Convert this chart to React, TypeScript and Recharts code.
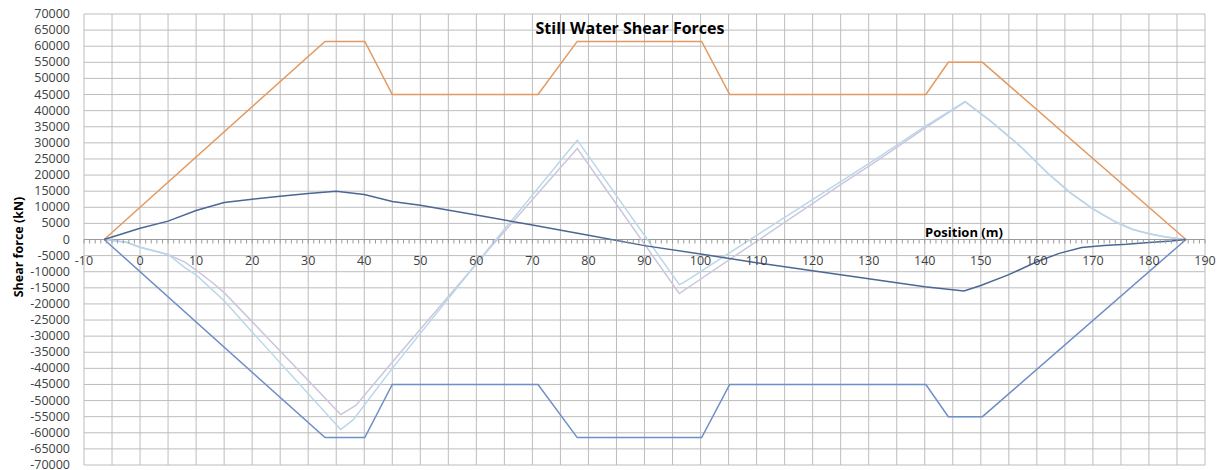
import React from "react";
import { CartesianGrid, Line, LineChart, ReferenceLine, XAxis, YAxis } from "recharts";

// Still water shear force along the hull, with the allowable envelope and
// two loading conditions. Positions in m, forces in kN.

const W = 1223;
const H = 470;
const PLOT_TOP = 14;
const PLOT_H = 451;
const ZERO_Y = PLOT_TOP + PLOT_H / 2;
const FONT = "'Open Sans', sans-serif";

const maxEnvX = [-6.4, 33, 40.1, 45, 71, 78, 100.2, 105.2, 140.2, 144.2, 150.3, 186.6];
const maxEnvY = [0, 61500, 61500, 45000, 45000, 61500, 61500, 45000, 45000, 55000, 55000, 0];

const minEnvX = [-6.4, 33, 40.1, 45, 71, 78, 100.2, 105.2, 140.2, 144.2, 150.3, 186.6];
const minEnvY = [0, -61500, -61500, -45000, -45000, -61500, -61500, -45000, -45000, -55000, -55000, 0];

const stillX = [-6.4, 0, 5, 10, 15, 20, 25, 30, 35, 40, 45, 50, 60, 70, 80, 90, 100, 110, 120, 130, 140, 147, 150, 155, 160, 164, 168, 172, 176, 180, 184, 186.6];
const stillY = [0, 3500, 5700, 9000, 11500, 12500, 13400, 14300, 15000, 14000, 11800, 10600, 7600, 4500, 1300, -1900, -4500, -7200, -9700, -12200, -14700, -16000, -14300, -10900, -6900, -4300, -2500, -1900, -1500, -900, -500, 0];

const loadAX = [-6.4, -2.4, 0, 5, 8, 10, 15, 20, 35.8, 38, 45, 62, 78, 96.2, 96.9, 110, 125, 132, 140.2, 147.2, 151.6, 157, 162, 166, 170, 174, 177, 180, 183, 186.6];
const loadAY = [0, -830, -2400, -4660, -8700, -11000, -19000, -28700, -59000, -56000, -40000, -3200, 30840, -14000, -13450, 1300, 18000, 25800, 35300, 42760, 37000, 29000, 20500, 14500, 9500, 5500, 3200, 1800, 800, 0];

const loadBX = [-6.4, -2.4, 0, 5, 8, 10, 13, 15, 20, 35.8, 38.5, 46, 62, 78, 96.2, 110, 125, 132, 140.2, 147.2, 151.6, 157, 162, 166, 170, 174, 177, 180, 183, 186.6];
const loadBY = [0, -830, -2400, -4660, -7000, -9500, -13500, -16500, -25500, -54350, -51500, -36000, -3500, 28260, -16770, -550, 17000, 25000, 34800, 42760, 37000, 29000, 20500, 14500, 9500, 5500, 3200, 1800, 800, 0];

// every metre gets a minor tick, every 10 m a label
const xTicks = Array.from({ length: 201 }, (_, i) => -10 + i);
const gridX = Array.from({ length: 41 }, (_, i) => -10 + i * 5);
const yTicks = Array.from({ length: 29 }, (_, i) => -70000 + i * 5000);

const pts = (xs: number[], ys: number[]) => xs.map((x, i) => ({ x, y: ys[i] }));

const COLORS = {
  max: "#e3995f",
  min: "#6d8ec8",
  still: "#4b6795",
  loadA: "#b8d7ea",
  loadB: "#cbc6dd",
  grid: "#bdbdbd",
  axis: "#9a9a9a",
  text: "#404040",
};

function XTick(props: any) {
  const { x, payload } = props;
  const v = payload.value as number;
  return (
    <g>
      <line x1={x} x2={x} y1={ZERO_Y} y2={ZERO_Y + 4} stroke={COLORS.axis} strokeWidth={1} />
      {v % 10 === 0 ? (
        <text x={x} y={ZERO_Y + 25} textAnchor="middle" fontSize={12.5} fontFamily={FONT} fill={COLORS.text}>
          {v}
        </text>
      ) : null}
    </g>
  );
}

function YLabelTick(props: any) {
  const { y, payload } = props;
  return (
    <text x={70} y={y + 4} textAnchor="end" fontSize={12.5} fontFamily={FONT} fill={COLORS.text}>
      {payload.value}
    </text>
  );
}

export default function App() {
  return (
    <div style={{ position: "relative", width: W, height: H, background: "#fff" }}>
      <style>{`body{margin:0}`}</style>
      <LineChart width={W} height={H} margin={{ top: PLOT_TOP, right: 18, bottom: 4, left: 0 }}>
        <CartesianGrid vertical={false} stroke={COLORS.grid} />
        <XAxis
          dataKey="x"
          type="number"
          domain={[-10, 190]}
          ticks={xTicks}
          interval={0}
          height={1}
          axisLine={false}
          tickLine={false}
          tick={<XTick />}
        />
        <YAxis
          type="number"
          domain={[-70000, 70000]}
          ticks={yTicks}
          interval={0}
          width={84}
          axisLine={false}
          tickLine={false}
          tick={<YLabelTick />}
        />
        {gridX.map((v) => (
          <ReferenceLine key={v} x={v} stroke={COLORS.grid} strokeWidth={1} />
        ))}
        <ReferenceLine y={0} stroke={COLORS.axis} strokeWidth={1} />
        <Line data={pts(loadBX, loadBY)} dataKey="y" stroke={COLORS.loadB} strokeWidth={1.5} dot={false} isAnimationActive={false} />
        <Line data={pts(loadAX, loadAY)} dataKey="y" stroke={COLORS.loadA} strokeWidth={1.5} dot={false} isAnimationActive={false} />
        <Line data={pts(maxEnvX, maxEnvY)} dataKey="y" stroke={COLORS.max} strokeWidth={1.5} dot={false} isAnimationActive={false} />
        <Line data={pts(minEnvX, minEnvY)} dataKey="y" stroke={COLORS.min} strokeWidth={1.5} dot={false} isAnimationActive={false} />
        <Line data={pts(stillX, stillY)} dataKey="y" stroke={COLORS.still} strokeWidth={1.5} dot={false} isAnimationActive={false} />
      </LineChart>

      <div
        style={{
          position: "absolute",
          left: 630,
          top: 28,
          transform: "translate(-50%, -50%)",
          fontFamily: FONT,
          fontWeight: 700,
          fontSize: 16,
          color: "#000",
          whiteSpace: "nowrap",
        }}
      >
        Still Water Shear Forces
      </div>
      <div
        style={{
          position: "absolute",
          left: 964,
          top: 232,
          transform: "translate(-50%, -50%)",
          fontFamily: FONT,
          fontWeight: 700,
          fontSize: 13,
          color: "#000",
          whiteSpace: "nowrap",
        }}
      >
        Position (m)
      </div>
      <div
        style={{
          position: "absolute",
          left: 18,
          top: 247,
          transform: "translate(-50%, -50%) rotate(-90deg)",
          fontFamily: FONT,
          fontWeight: 700,
          fontSize: 12.5,
          color: "#000",
          whiteSpace: "nowrap",
        }}
      >
        Shear force (kN)
      </div>
    </div>
  );
}
